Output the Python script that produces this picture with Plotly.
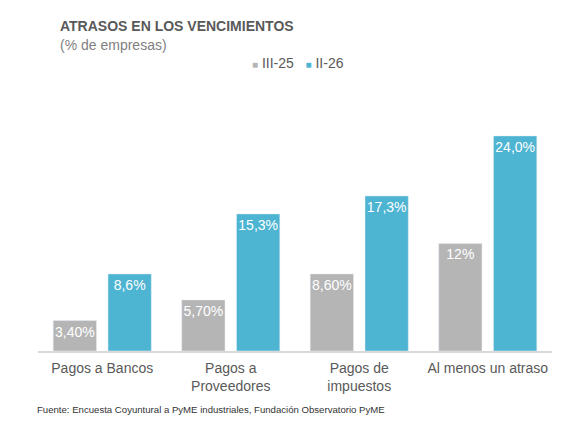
import plotly.graph_objects as go

# Datos del gráfico
categorias = ["Pagos a Bancos", "Pagos a<br>Proveedores", "Pagos de<br>impuestos", "Al menos un atraso"]
serie_iii25 = [3.4, 5.7, 8.6, 12.0]
serie_ii26 = [8.6, 15.3, 17.3, 24.0]
etiquetas_iii25 = ["3,40%", "5,70%", "8,60%", "12%"]
etiquetas_ii26 = ["8,6%", "15,3%", "17,3%", "24,0%"]
nombres_series = ["III-25", "II-26"]

gris = "#b5b5b5"
azul = "#4db4d2"
texto = "#595959"

fig = go.Figure()
fig.add_trace(go.Bar(
    x=categorias, y=serie_iii25, name=nombres_series[0],
    marker=dict(color=gris),
    text=etiquetas_iii25, textposition="inside", insidetextanchor="end",
    textfont=dict(color="white", size=14), textangle=0,
))
fig.add_trace(go.Bar(
    x=categorias, y=serie_ii26, name=nombres_series[1],
    marker=dict(color=azul),
    text=etiquetas_ii26, textposition="inside", insidetextanchor="end",
    textfont=dict(color="white", size=14), textangle=0,
))

# la página html añade 8px de margen al cuerpo, se compensa en los márgenes
fig.update_layout(
    width=586, height=425,
    paper_bgcolor="white", plot_bgcolor="white",
    font=dict(family="Liberation Sans, Arial, sans-serif", color=texto),
    barmode="group", bargap=0.147, bargroupgap=0.21,
    margin=dict(l=30, r=42, t=110, b=82, autoexpand=False),
    showlegend=False,
    uniformtext=dict(mode="show", minsize=14),
)

fig.update_xaxes(showline=True, linecolor="#d9d9d9", linewidth=1.5, ticks="",
                 tickfont=dict(size=14, color=texto), showgrid=False, automargin=False,
                 ticklabelstandoff=3)
fig.update_yaxes(range=[0, 26], visible=False, showgrid=False, automargin=False)

# Títulos
fig.add_annotation(text="<b>ATRASOS EN LOS VENCIMIENTOS</b>", xref="paper", yref="paper",
                   x=0.039, y=1.0, xanchor="left", yanchor="bottom", showarrow=False,
                   font=dict(size=14, color=texto), yshift=82)
fig.add_annotation(text="(% de empresas)", xref="paper", yref="paper",
                   x=0.039, y=1.0, xanchor="left", yanchor="bottom", showarrow=False,
                   font=dict(size=14, color="#7f7f7f"), yshift=63)

# Leyenda
fig.add_annotation(
    text=(f'<span style="color:{gris}; font-size:10px">■</span> {nombres_series[0]}'
          f'&nbsp;&nbsp;&nbsp;<span style="color:{azul}; font-size:10px">■</span> {nombres_series[1]}'),
    xref="paper", yref="paper", x=0.412, y=1.0, xanchor="left", yanchor="middle",
    showarrow=False, font=dict(size=14, color=texto), yshift=55)

# Fuente
fig.add_annotation(text="Fuente: Encuesta Coyuntural a PyME industriales, Fundación Observatorio PyME",
                   xref="paper", yref="paper", x=-0.006, y=0, xanchor="left", yanchor="middle",
                   showarrow=False, font=dict(size=9.6, color="#333333"), yshift=-58)

fig.write_html("out.html")
